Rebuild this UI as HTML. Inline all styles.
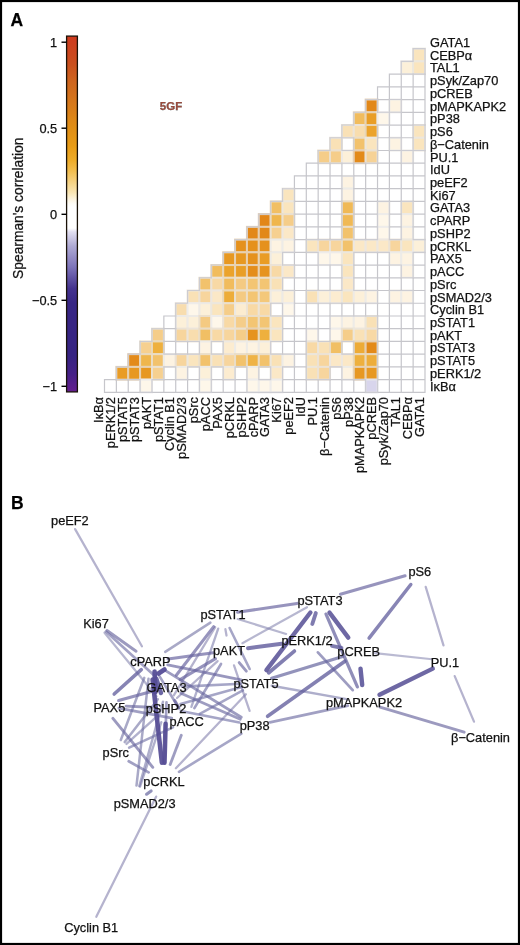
<!DOCTYPE html>
<html><head><meta charset="utf-8"><style>
html,body{margin:0;padding:0;background:#fff;}
body{width:520px;height:945px;overflow:hidden;position:relative;}
svg{position:absolute;left:0;top:0;filter:blur(0.3px);}
text{font-family:"Liberation Sans",sans-serif;stroke:#111;stroke-width:0.25px;paint-order:stroke;}
</style></head><body>
<svg width="520" height="945" viewBox="0 0 520 945">
<rect x="0" y="0" width="520" height="945" fill="#fff"/>

<g stroke-width="2.00"><rect x="413.13" y="48.65" width="11.87" height="12.73" fill="#fae5be" stroke="#ece7dd"/><rect x="401.26" y="61.38" width="11.87" height="12.73" fill="#fcf0d9" stroke="#edeae5"/><rect x="413.13" y="61.38" width="11.87" height="12.73" fill="#fae5be" stroke="#ece7dd"/><rect x="365.65" y="99.57" width="11.87" height="12.73" fill="#e28819" stroke="#e6cdaf"/><rect x="389.39" y="99.57" width="11.87" height="12.73" fill="#fdf3e2" stroke="#edebe7"/><rect x="353.78" y="112.30" width="11.87" height="12.73" fill="#f1bc5d" stroke="#eadbc2"/><rect x="365.65" y="112.30" width="11.87" height="12.73" fill="#e99e26" stroke="#e8d3b3"/><rect x="377.52" y="112.30" width="11.87" height="12.73" fill="#fef7ea" stroke="#eeecea"/><rect x="341.91" y="125.03" width="11.87" height="12.73" fill="#f9e1b6" stroke="#ece6db"/><rect x="353.78" y="125.03" width="11.87" height="12.73" fill="#f8ddae" stroke="#ece4d9"/><rect x="365.65" y="125.03" width="11.87" height="12.73" fill="#eba32c" stroke="#e8d4b4"/><rect x="413.13" y="125.03" width="11.87" height="12.73" fill="#fae5be" stroke="#ece7dd"/><rect x="330.04" y="137.76" width="11.87" height="12.73" fill="#f9e1b6" stroke="#ece6db"/><rect x="353.78" y="137.76" width="11.87" height="12.73" fill="#f2c26c" stroke="#eaddc6"/><rect x="365.65" y="137.76" width="11.87" height="12.73" fill="#fae5be" stroke="#ece7dd"/><rect x="389.39" y="137.76" width="11.87" height="12.73" fill="#fdf3e2" stroke="#edebe7"/><rect x="413.13" y="137.76" width="11.87" height="12.73" fill="#fae5be" stroke="#ece7dd"/><rect x="318.17" y="150.49" width="11.87" height="12.73" fill="#f5cd89" stroke="#ebe0ce"/><rect x="330.04" y="150.49" width="11.87" height="12.73" fill="#f5cd89" stroke="#ebe0ce"/><rect x="341.91" y="150.49" width="11.87" height="12.73" fill="#fcf0d9" stroke="#edeae5"/><rect x="353.78" y="150.49" width="11.87" height="12.73" fill="#e38a19" stroke="#e6cdaf"/><rect x="365.65" y="150.49" width="11.87" height="12.73" fill="#f6d296" stroke="#ebe1d2"/><rect x="401.26" y="150.49" width="11.87" height="12.73" fill="#fdf3e2" stroke="#edebe7"/><rect x="341.91" y="175.95" width="11.87" height="12.73" fill="#fdf3e2" stroke="#edebe7"/><rect x="282.56" y="188.68" width="11.87" height="12.73" fill="#fae5be" stroke="#ece7dd"/><rect x="341.91" y="188.68" width="11.87" height="12.73" fill="#fdf3e2" stroke="#edebe7"/><rect x="270.69" y="201.41" width="11.87" height="12.73" fill="#f1bf64" stroke="#eadcc4"/><rect x="282.56" y="201.41" width="11.87" height="12.73" fill="#fae5be" stroke="#ece7dd"/><rect x="341.91" y="201.41" width="11.87" height="12.73" fill="#f0b955" stroke="#eadac0"/><rect x="377.52" y="201.41" width="11.87" height="12.73" fill="#fdf3e2" stroke="#edebe7"/><rect x="401.26" y="201.41" width="11.87" height="12.73" fill="#fae5be" stroke="#ece7dd"/><rect x="258.81" y="214.14" width="11.87" height="12.73" fill="#e28618" stroke="#e6ccaf"/><rect x="270.69" y="214.14" width="11.87" height="12.73" fill="#efb64d" stroke="#e9d9be"/><rect x="282.56" y="214.14" width="11.87" height="12.73" fill="#f5cd89" stroke="#ebe0ce"/><rect x="341.91" y="214.14" width="11.87" height="12.73" fill="#f0b955" stroke="#eadac0"/><rect x="377.52" y="214.14" width="11.87" height="12.73" fill="#fef7ea" stroke="#eeecea"/><rect x="401.26" y="214.14" width="11.87" height="12.73" fill="#fdf3e2" stroke="#edebe7"/><rect x="246.94" y="226.87" width="11.87" height="12.73" fill="#e28819" stroke="#e6cdaf"/><rect x="258.81" y="226.87" width="11.87" height="12.73" fill="#e28819" stroke="#e6cdaf"/><rect x="270.69" y="226.87" width="11.87" height="12.73" fill="#f6d090" stroke="#ebe1d0"/><rect x="282.56" y="226.87" width="11.87" height="12.73" fill="#fbe8c7" stroke="#ede7e0"/><rect x="341.91" y="226.87" width="11.87" height="12.73" fill="#f2c26c" stroke="#eaddc6"/><rect x="377.52" y="226.87" width="11.87" height="12.73" fill="#fef7ea" stroke="#eeecea"/><rect x="401.26" y="226.87" width="11.87" height="12.73" fill="#fdf3e2" stroke="#edebe7"/><rect x="235.07" y="239.60" width="11.87" height="12.73" fill="#e5911d" stroke="#e7cfb0"/><rect x="246.94" y="239.60" width="11.87" height="12.73" fill="#e5911d" stroke="#e7cfb0"/><rect x="258.81" y="239.60" width="11.87" height="12.73" fill="#e5911d" stroke="#e7cfb0"/><rect x="270.69" y="239.60" width="11.87" height="12.73" fill="#fdf3e2" stroke="#edebe7"/><rect x="282.56" y="239.60" width="11.87" height="12.73" fill="#fdf3e2" stroke="#edebe7"/><rect x="306.30" y="239.60" width="11.87" height="12.73" fill="#fae5be" stroke="#ece7dd"/><rect x="318.17" y="239.60" width="11.87" height="12.73" fill="#f7d59d" stroke="#ece2d4"/><rect x="330.04" y="239.60" width="11.87" height="12.73" fill="#f7d59d" stroke="#ece2d4"/><rect x="341.91" y="239.60" width="11.87" height="12.73" fill="#f2c26c" stroke="#eaddc6"/><rect x="353.78" y="239.60" width="11.87" height="12.73" fill="#fbe8c7" stroke="#ede7e0"/><rect x="365.65" y="239.60" width="11.87" height="12.73" fill="#fbe8c7" stroke="#ede7e0"/><rect x="377.52" y="239.60" width="11.87" height="12.73" fill="#fbe8c7" stroke="#ede7e0"/><rect x="389.39" y="239.60" width="11.87" height="12.73" fill="#f7d59d" stroke="#ece2d4"/><rect x="401.26" y="239.60" width="11.87" height="12.73" fill="#fae5be" stroke="#ece7dd"/><rect x="413.13" y="239.60" width="11.87" height="12.73" fill="#fcf0d9" stroke="#edeae5"/><rect x="223.20" y="252.33" width="11.87" height="12.73" fill="#e79822" stroke="#e7d1b2"/><rect x="235.07" y="252.33" width="11.87" height="12.73" fill="#e79822" stroke="#e7d1b2"/><rect x="246.94" y="252.33" width="11.87" height="12.73" fill="#e5911d" stroke="#e7cfb0"/><rect x="258.81" y="252.33" width="11.87" height="12.73" fill="#e99c25" stroke="#e8d2b2"/><rect x="270.69" y="252.33" width="11.87" height="12.73" fill="#fcf0d9" stroke="#edeae5"/><rect x="318.17" y="252.33" width="11.87" height="12.73" fill="#fef7ea" stroke="#eeecea"/><rect x="330.04" y="252.33" width="11.87" height="12.73" fill="#fef7ea" stroke="#eeecea"/><rect x="341.91" y="252.33" width="11.87" height="12.73" fill="#fae5be" stroke="#ece7dd"/><rect x="389.39" y="252.33" width="11.87" height="12.73" fill="#fdf3e2" stroke="#edebe7"/><rect x="401.26" y="252.33" width="11.87" height="12.73" fill="#fdf3e2" stroke="#edebe7"/><rect x="211.33" y="265.06" width="11.87" height="12.73" fill="#f1bc5d" stroke="#eadbc2"/><rect x="223.20" y="265.06" width="11.87" height="12.73" fill="#eba32c" stroke="#e8d4b4"/><rect x="235.07" y="265.06" width="11.87" height="12.73" fill="#e99e26" stroke="#e8d3b3"/><rect x="246.94" y="265.06" width="11.87" height="12.73" fill="#e48d1a" stroke="#e6ceaf"/><rect x="258.81" y="265.06" width="11.87" height="12.73" fill="#e6931f" stroke="#e7d0b1"/><rect x="270.69" y="265.06" width="11.87" height="12.73" fill="#f8d9a5" stroke="#ece3d6"/><rect x="282.56" y="265.06" width="11.87" height="12.73" fill="#fbe8c7" stroke="#ede7e0"/><rect x="341.91" y="265.06" width="11.87" height="12.73" fill="#fae5be" stroke="#ece7dd"/><rect x="401.26" y="265.06" width="11.87" height="12.73" fill="#fdf3e2" stroke="#edebe7"/><rect x="199.46" y="277.79" width="11.87" height="12.73" fill="#f2c26c" stroke="#eaddc6"/><rect x="211.33" y="277.79" width="11.87" height="12.73" fill="#f8d9a5" stroke="#ece3d6"/><rect x="223.20" y="277.79" width="11.87" height="12.73" fill="#f1bc5d" stroke="#eadbc2"/><rect x="235.07" y="277.79" width="11.87" height="12.73" fill="#f4ca82" stroke="#ebdfcc"/><rect x="246.94" y="277.79" width="11.87" height="12.73" fill="#f3c573" stroke="#ebdec8"/><rect x="258.81" y="277.79" width="11.87" height="12.73" fill="#f3c573" stroke="#ebdec8"/><rect x="270.69" y="277.79" width="11.87" height="12.73" fill="#f9e1b6" stroke="#ece6db"/><rect x="341.91" y="277.79" width="11.87" height="12.73" fill="#fbe8c7" stroke="#ede7e0"/><rect x="187.59" y="290.52" width="11.87" height="12.73" fill="#f9e1b6" stroke="#ece6db"/><rect x="199.46" y="290.52" width="11.87" height="12.73" fill="#f7d59d" stroke="#ece2d4"/><rect x="211.33" y="290.52" width="11.87" height="12.73" fill="#fbe8c7" stroke="#ede7e0"/><rect x="223.20" y="290.52" width="11.87" height="12.73" fill="#edad3a" stroke="#e9d7b8"/><rect x="235.07" y="290.52" width="11.87" height="12.73" fill="#f4ca82" stroke="#ebdfcc"/><rect x="246.94" y="290.52" width="11.87" height="12.73" fill="#f3c573" stroke="#ebdec8"/><rect x="258.81" y="290.52" width="11.87" height="12.73" fill="#f4c87a" stroke="#ebdeca"/><rect x="270.69" y="290.52" width="11.87" height="12.73" fill="#fcf0d9" stroke="#edeae5"/><rect x="282.56" y="290.52" width="11.87" height="12.73" fill="#fcf0d9" stroke="#edeae5"/><rect x="306.30" y="290.52" width="11.87" height="12.73" fill="#f9e1b6" stroke="#ece6db"/><rect x="318.17" y="290.52" width="11.87" height="12.73" fill="#fcf0d9" stroke="#edeae5"/><rect x="330.04" y="290.52" width="11.87" height="12.73" fill="#fcecd0" stroke="#ede9e2"/><rect x="341.91" y="290.52" width="11.87" height="12.73" fill="#fae5be" stroke="#ece7dd"/><rect x="353.78" y="290.52" width="11.87" height="12.73" fill="#fcf0d9" stroke="#edeae5"/><rect x="365.65" y="290.52" width="11.87" height="12.73" fill="#fdf3e2" stroke="#edebe7"/><rect x="389.39" y="290.52" width="11.87" height="12.73" fill="#fdf3e2" stroke="#edebe7"/><rect x="401.26" y="290.52" width="11.87" height="12.73" fill="#fdf3e2" stroke="#edebe7"/><rect x="175.72" y="303.25" width="11.87" height="12.73" fill="#f8ddae" stroke="#ece4d9"/><rect x="187.59" y="303.25" width="11.87" height="12.73" fill="#fef7ea" stroke="#eeecea"/><rect x="199.46" y="303.25" width="11.87" height="12.73" fill="#fcf0d9" stroke="#edeae5"/><rect x="211.33" y="303.25" width="11.87" height="12.73" fill="#fae5be" stroke="#ece7dd"/><rect x="223.20" y="303.25" width="11.87" height="12.73" fill="#f5cd89" stroke="#ebe0ce"/><rect x="235.07" y="303.25" width="11.87" height="12.73" fill="#fcecd0" stroke="#ede9e2"/><rect x="246.94" y="303.25" width="11.87" height="12.73" fill="#f8d9a5" stroke="#ece3d6"/><rect x="258.81" y="303.25" width="11.87" height="12.73" fill="#f8d9a5" stroke="#ece3d6"/><rect x="282.56" y="303.25" width="11.87" height="12.73" fill="#fef7ea" stroke="#eeecea"/><rect x="175.72" y="315.98" width="11.87" height="12.73" fill="#fcf0d9" stroke="#edeae5"/><rect x="187.59" y="315.98" width="11.87" height="12.73" fill="#fcf0d9" stroke="#edeae5"/><rect x="199.46" y="315.98" width="11.87" height="12.73" fill="#f4ca82" stroke="#ebdfcc"/><rect x="211.33" y="315.98" width="11.87" height="12.73" fill="#fef7ea" stroke="#eeecea"/><rect x="223.20" y="315.98" width="11.87" height="12.73" fill="#f8d9a5" stroke="#ece3d6"/><rect x="235.07" y="315.98" width="11.87" height="12.73" fill="#f5cd89" stroke="#ebe0ce"/><rect x="246.94" y="315.98" width="11.87" height="12.73" fill="#f3c573" stroke="#ebdec8"/><rect x="258.81" y="315.98" width="11.87" height="12.73" fill="#f3c573" stroke="#ebdec8"/><rect x="270.69" y="315.98" width="11.87" height="12.73" fill="#fae5be" stroke="#ece7dd"/><rect x="330.04" y="315.98" width="11.87" height="12.73" fill="#fef7ea" stroke="#eeecea"/><rect x="341.91" y="315.98" width="11.87" height="12.73" fill="#fdf3e2" stroke="#edebe7"/><rect x="353.78" y="315.98" width="11.87" height="12.73" fill="#fdf3e2" stroke="#edebe7"/><rect x="365.65" y="315.98" width="11.87" height="12.73" fill="#f9e1b6" stroke="#ece6db"/><rect x="151.98" y="328.71" width="11.87" height="12.73" fill="#f5cd89" stroke="#ebe0ce"/><rect x="175.72" y="328.71" width="11.87" height="12.73" fill="#f7d59d" stroke="#ece2d4"/><rect x="187.59" y="328.71" width="11.87" height="12.73" fill="#f8ddae" stroke="#ece4d9"/><rect x="199.46" y="328.71" width="11.87" height="12.73" fill="#f1bf64" stroke="#eadcc4"/><rect x="211.33" y="328.71" width="11.87" height="12.73" fill="#f8d9a5" stroke="#ece3d6"/><rect x="223.20" y="328.71" width="11.87" height="12.73" fill="#f7d59d" stroke="#ece2d4"/><rect x="235.07" y="328.71" width="11.87" height="12.73" fill="#f5cd89" stroke="#ebe0ce"/><rect x="246.94" y="328.71" width="11.87" height="12.73" fill="#e6931f" stroke="#e7d0b1"/><rect x="258.81" y="328.71" width="11.87" height="12.73" fill="#eeb03e" stroke="#e9d8b9"/><rect x="270.69" y="328.71" width="11.87" height="12.73" fill="#fae5be" stroke="#ece7dd"/><rect x="306.30" y="328.71" width="11.87" height="12.73" fill="#fef7ea" stroke="#eeecea"/><rect x="330.04" y="328.71" width="11.87" height="12.73" fill="#fef7ea" stroke="#eeecea"/><rect x="341.91" y="328.71" width="11.87" height="12.73" fill="#f5cd89" stroke="#ebe0ce"/><rect x="353.78" y="328.71" width="11.87" height="12.73" fill="#f9e1b6" stroke="#ece6db"/><rect x="365.65" y="328.71" width="11.87" height="12.73" fill="#f8d9a5" stroke="#ece3d6"/><rect x="140.11" y="341.44" width="11.87" height="12.73" fill="#f6d090" stroke="#ebe1d0"/><rect x="151.98" y="341.44" width="11.87" height="12.73" fill="#eeb03e" stroke="#e9d8b9"/><rect x="199.46" y="341.44" width="11.87" height="12.73" fill="#fdf3e2" stroke="#edebe7"/><rect x="223.20" y="341.44" width="11.87" height="12.73" fill="#fcecd0" stroke="#ede9e2"/><rect x="235.07" y="341.44" width="11.87" height="12.73" fill="#fdf3e2" stroke="#edebe7"/><rect x="246.94" y="341.44" width="11.87" height="12.73" fill="#fdf3e2" stroke="#edebe7"/><rect x="258.81" y="341.44" width="11.87" height="12.73" fill="#fcf0d9" stroke="#edeae5"/><rect x="306.30" y="341.44" width="11.87" height="12.73" fill="#f8d9a5" stroke="#ece3d6"/><rect x="318.17" y="341.44" width="11.87" height="12.73" fill="#f9e1b6" stroke="#ece6db"/><rect x="330.04" y="341.44" width="11.87" height="12.73" fill="#f1bf64" stroke="#eadcc4"/><rect x="353.78" y="341.44" width="11.87" height="12.73" fill="#edab37" stroke="#e9d6b7"/><rect x="365.65" y="341.44" width="11.87" height="12.73" fill="#e38a19" stroke="#e6cdaf"/><rect x="128.24" y="354.17" width="11.87" height="12.73" fill="#e38a19" stroke="#e6cdaf"/><rect x="140.11" y="354.17" width="11.87" height="12.73" fill="#efb64d" stroke="#e9d9be"/><rect x="151.98" y="354.17" width="11.87" height="12.73" fill="#f2c26c" stroke="#eaddc6"/><rect x="163.85" y="354.17" width="11.87" height="12.73" fill="#fdf3e2" stroke="#edebe7"/><rect x="175.72" y="354.17" width="11.87" height="12.73" fill="#f7d59d" stroke="#ece2d4"/><rect x="187.59" y="354.17" width="11.87" height="12.73" fill="#fae5be" stroke="#ece7dd"/><rect x="199.46" y="354.17" width="11.87" height="12.73" fill="#f2c26c" stroke="#eaddc6"/><rect x="211.33" y="354.17" width="11.87" height="12.73" fill="#f9e1b6" stroke="#ece6db"/><rect x="223.20" y="354.17" width="11.87" height="12.73" fill="#f7d59d" stroke="#ece2d4"/><rect x="235.07" y="354.17" width="11.87" height="12.73" fill="#f2c26c" stroke="#eaddc6"/><rect x="246.94" y="354.17" width="11.87" height="12.73" fill="#efb346" stroke="#e9d9bc"/><rect x="258.81" y="354.17" width="11.87" height="12.73" fill="#f2c26c" stroke="#eaddc6"/><rect x="270.69" y="354.17" width="11.87" height="12.73" fill="#f9e1b6" stroke="#ece6db"/><rect x="282.56" y="354.17" width="11.87" height="12.73" fill="#fdf3e2" stroke="#edebe7"/><rect x="306.30" y="354.17" width="11.87" height="12.73" fill="#f9e1b6" stroke="#ece6db"/><rect x="318.17" y="354.17" width="11.87" height="12.73" fill="#f7d59d" stroke="#ece2d4"/><rect x="330.04" y="354.17" width="11.87" height="12.73" fill="#fbe8c7" stroke="#ede7e0"/><rect x="341.91" y="354.17" width="11.87" height="12.73" fill="#fbe8c7" stroke="#ede7e0"/><rect x="353.78" y="354.17" width="11.87" height="12.73" fill="#eeb03e" stroke="#e9d8b9"/><rect x="365.65" y="354.17" width="11.87" height="12.73" fill="#edad3a" stroke="#e9d7b8"/><rect x="116.37" y="366.90" width="11.87" height="12.73" fill="#e99c25" stroke="#e8d2b2"/><rect x="128.24" y="366.90" width="11.87" height="12.73" fill="#e79822" stroke="#e7d1b2"/><rect x="140.11" y="366.90" width="11.87" height="12.73" fill="#e79822" stroke="#e7d1b2"/><rect x="151.98" y="366.90" width="11.87" height="12.73" fill="#f6d090" stroke="#ebe1d0"/><rect x="175.72" y="366.90" width="11.87" height="12.73" fill="#fdf3e2" stroke="#edebe7"/><rect x="199.46" y="366.90" width="11.87" height="12.73" fill="#fcf0d9" stroke="#edeae5"/><rect x="223.20" y="366.90" width="11.87" height="12.73" fill="#fcecd0" stroke="#ede9e2"/><rect x="246.94" y="366.90" width="11.87" height="12.73" fill="#fdf3e2" stroke="#edebe7"/><rect x="270.69" y="366.90" width="11.87" height="12.73" fill="#fbe8c7" stroke="#ede7e0"/><rect x="306.30" y="366.90" width="11.87" height="12.73" fill="#f9e1b6" stroke="#ece6db"/><rect x="318.17" y="366.90" width="11.87" height="12.73" fill="#f7d59d" stroke="#ece2d4"/><rect x="341.91" y="366.90" width="11.87" height="12.73" fill="#fdf3e2" stroke="#edebe7"/><rect x="353.78" y="366.90" width="11.87" height="12.73" fill="#e79822" stroke="#e7d1b2"/><rect x="365.65" y="366.90" width="11.87" height="12.73" fill="#e79822" stroke="#e7d1b2"/><rect x="140.11" y="379.63" width="11.87" height="12.73" fill="#fef7ea" stroke="#eeecea"/><rect x="199.46" y="379.63" width="11.87" height="12.73" fill="#fef7ea" stroke="#eeecea"/><rect x="246.94" y="379.63" width="11.87" height="12.73" fill="#fef7ea" stroke="#eeecea"/><rect x="258.81" y="379.63" width="11.87" height="12.73" fill="#fef7ea" stroke="#eeecea"/><rect x="270.69" y="379.63" width="11.87" height="12.73" fill="#fef7ea" stroke="#eeecea"/><rect x="365.65" y="379.63" width="11.87" height="12.73" fill="#d8d5ec" stroke="#e3e2ea"/></g>
<path d="M388.79 74.11H401.86M376.92 86.84H389.99M388.79 86.84H401.86M400.66 86.84H413.73M412.53 86.84H425.60M376.92 99.57H389.99M400.66 99.57H413.73M412.53 99.57H425.60M400.66 112.30H413.73M412.53 112.30H425.60M388.79 125.03H401.86M400.66 125.03H413.73M376.92 137.76H389.99M400.66 137.76H413.73M376.92 150.49H389.99M305.70 163.22H318.77M376.92 163.22H389.99M388.79 163.22H401.86M412.53 163.22H425.60M293.83 175.95H306.90M305.70 175.95H318.77M317.57 175.95H330.64M329.44 175.95H342.51M353.18 175.95H366.25M365.05 175.95H378.12M376.92 175.95H389.99M388.79 175.95H401.86M400.66 175.95H413.73M412.53 175.95H425.60M293.83 188.68H306.90M305.70 188.68H318.77M317.57 188.68H330.64M329.44 188.68H342.51M353.18 188.68H366.25M365.05 188.68H378.12M376.92 188.68H389.99M388.79 188.68H401.86M400.66 188.68H413.73M412.53 188.68H425.60M293.83 201.41H306.90M305.70 201.41H318.77M317.57 201.41H330.64M329.44 201.41H342.51M353.18 201.41H366.25M365.05 201.41H378.12M388.79 201.41H401.86M412.53 201.41H425.60M293.83 214.14H306.90M305.70 214.14H318.77M317.57 214.14H330.64M329.44 214.14H342.51M353.18 214.14H366.25M365.05 214.14H378.12M388.79 214.14H401.86M412.53 214.14H425.60M293.83 226.87H306.90M305.70 226.87H318.77M317.57 226.87H330.64M329.44 226.87H342.51M353.18 226.87H366.25M365.05 226.87H378.12M388.79 226.87H401.86M412.53 226.87H425.60M293.83 239.60H306.90M293.83 252.33H306.90M293.83 265.06H306.90M305.70 265.06H318.77M353.18 265.06H366.25M365.05 265.06H378.12M376.92 265.06H389.99M412.53 265.06H425.60M293.83 277.79H306.90M305.70 277.79H318.77M317.57 277.79H330.64M329.44 277.79H342.51M353.18 277.79H366.25M365.05 277.79H378.12M376.92 277.79H389.99M388.79 277.79H401.86M412.53 277.79H425.60M293.83 290.52H306.90M376.92 290.52H389.99M412.53 290.52H425.60M293.83 303.25H306.90M376.92 303.25H389.99M412.53 303.25H425.60M163.25 315.98H176.32M293.83 315.98H306.90M305.70 315.98H318.77M317.57 315.98H330.64M376.92 315.98H389.99M388.79 315.98H401.86M400.66 315.98H413.73M412.53 315.98H425.60M163.25 328.71H176.32M281.96 328.71H295.03M293.83 328.71H306.90M317.57 328.71H330.64M376.92 328.71H389.99M388.79 328.71H401.86M400.66 328.71H413.73M412.53 328.71H425.60M163.25 341.44H176.32M281.96 341.44H295.03M293.83 341.44H306.90M376.92 341.44H389.99M388.79 341.44H401.86M400.66 341.44H413.73M412.53 341.44H425.60M293.83 354.17H306.90M376.92 354.17H389.99M388.79 354.17H401.86M400.66 354.17H413.73M412.53 354.17H425.60M293.83 366.90H306.90M376.92 366.90H389.99M388.79 366.90H401.86M400.66 366.90H413.73M412.53 366.90H425.60M103.90 379.63H116.97M163.25 379.63H176.32M186.99 379.63H200.06M210.73 379.63H223.80M234.47 379.63H247.54M281.96 379.63H295.03M293.83 379.63H306.90M329.44 379.63H342.51M376.92 379.63H389.99M388.79 379.63H401.86M400.66 379.63H413.73M412.53 379.63H425.60M103.90 392.36H116.97M115.77 392.36H128.84M127.64 392.36H140.71M151.38 392.36H164.45M163.25 392.36H176.32M175.12 392.36H188.19M186.99 392.36H200.06M210.73 392.36H223.80M222.60 392.36H235.67M234.47 392.36H247.54M281.96 392.36H295.03M293.83 392.36H306.90M305.70 392.36H318.77M317.57 392.36H330.64M329.44 392.36H342.51M341.31 392.36H354.38M353.18 392.36H366.25M376.92 392.36H389.99M388.79 392.36H401.86M400.66 392.36H413.73M412.53 392.36H425.60M104.50 379.03V392.96M116.37 379.03V392.96M128.24 379.03V392.96M163.85 315.38V329.31M163.85 379.03V392.96M175.72 340.84V354.77M175.72 379.03V392.96M187.59 340.84V354.77M187.59 379.03V392.96M223.20 379.03V392.96M235.07 379.03V392.96M282.56 340.84V354.77M294.43 175.35V189.28M294.43 251.73V265.66M294.43 277.19V291.12M294.43 315.38V329.31M294.43 328.11V342.04M294.43 340.84V354.77M294.43 366.30V380.23M294.43 379.03V392.96M306.30 162.62V176.55M306.30 175.35V189.28M306.30 188.08V202.01M306.30 200.81V214.74M306.30 213.54V227.47M306.30 226.27V240.20M306.30 251.73V265.66M306.30 264.46V278.39M306.30 277.19V291.12M306.30 302.65V316.58M306.30 315.38V329.31M306.30 379.03V392.96M318.17 162.62V176.55M318.17 175.35V189.28M318.17 188.08V202.01M318.17 200.81V214.74M318.17 213.54V227.47M318.17 226.27V240.20M318.17 264.46V278.39M318.17 277.19V291.12M318.17 302.65V316.58M318.17 315.38V329.31M318.17 379.03V392.96M330.04 162.62V176.55M330.04 175.35V189.28M330.04 188.08V202.01M330.04 200.81V214.74M330.04 213.54V227.47M330.04 226.27V240.20M330.04 264.46V278.39M330.04 277.19V291.12M330.04 302.65V316.58M330.04 379.03V392.96M341.91 162.62V176.55M341.91 302.65V316.58M341.91 379.03V392.96M353.78 162.62V176.55M353.78 302.65V316.58M353.78 379.03V392.96M365.65 162.62V176.55M365.65 175.35V189.28M365.65 188.08V202.01M365.65 200.81V214.74M365.65 213.54V227.47M365.65 226.27V240.20M365.65 251.73V265.66M365.65 264.46V278.39M365.65 277.19V291.12M365.65 302.65V316.58M377.52 86.24V100.17M377.52 162.62V176.55M377.52 175.35V189.28M377.52 188.08V202.01M377.52 251.73V265.66M377.52 264.46V278.39M377.52 277.19V291.12M377.52 302.65V316.58M389.39 73.51V87.44M389.39 86.24V100.17M389.39 124.43V138.36M389.39 149.89V163.82M389.39 162.62V176.55M389.39 175.35V189.28M389.39 188.08V202.01M389.39 264.46V278.39M389.39 277.19V291.12M389.39 302.65V316.58M389.39 315.38V329.31M389.39 328.11V342.04M389.39 340.84V354.77M389.39 353.57V367.50M389.39 366.30V380.23M389.39 379.03V392.96M401.26 73.51V87.44M401.26 86.24V100.17M401.26 111.70V125.63M401.26 124.43V138.36M401.26 162.62V176.55M401.26 175.35V189.28M401.26 188.08V202.01M401.26 277.19V291.12M401.26 302.65V316.58M401.26 315.38V329.31M401.26 328.11V342.04M401.26 340.84V354.77M401.26 353.57V367.50M401.26 366.30V380.23M401.26 379.03V392.96M413.13 73.51V87.44M413.13 86.24V100.17M413.13 98.97V112.90M413.13 111.70V125.63M413.13 162.62V176.55M413.13 175.35V189.28M413.13 188.08V202.01M413.13 277.19V291.12M413.13 302.65V316.58M413.13 315.38V329.31M413.13 328.11V342.04M413.13 340.84V354.77M413.13 353.57V367.50M413.13 366.30V380.23M413.13 379.03V392.96M425.00 73.51V87.44M425.00 86.24V100.17M425.00 98.97V112.90M425.00 111.70V125.63M425.00 149.89V163.82M425.00 162.62V176.55M425.00 175.35V189.28M425.00 188.08V202.01M425.00 200.81V214.74M425.00 213.54V227.47M425.00 226.27V240.20M425.00 251.73V265.66M425.00 264.46V278.39M425.00 277.19V291.12M425.00 289.92V303.85M425.00 302.65V316.58M425.00 315.38V329.31M425.00 328.11V342.04M425.00 340.84V354.77M425.00 353.57V367.50M425.00 366.30V380.23M425.00 379.03V392.96" stroke="#c6c6cb" stroke-width="1.2" fill="none"/>
<path d="M412.53 48.65H425.60M400.66 61.38H413.73M400.66 74.11H413.73M412.53 74.11H425.60M365.05 99.57H378.12M388.79 99.57H401.86M353.18 112.30H366.25M376.92 112.30H389.99M388.79 112.30H401.86M341.31 125.03H354.38M376.92 125.03H389.99M412.53 125.03H425.60M329.44 137.76H342.51M341.31 137.76H354.38M388.79 137.76H401.86M317.57 150.49H330.64M341.31 150.49H354.38M388.79 150.49H401.86M400.66 150.49H413.73M412.53 150.49H425.60M317.57 163.22H330.64M329.44 163.22H342.51M341.31 163.22H354.38M353.18 163.22H366.25M365.05 163.22H378.12M400.66 163.22H413.73M341.31 175.95H354.38M281.96 188.68H295.03M270.09 201.41H283.16M376.92 201.41H389.99M400.66 201.41H413.73M258.21 214.14H271.29M246.34 226.87H259.41M234.47 239.60H247.54M305.70 239.60H318.77M317.57 239.60H330.64M329.44 239.60H342.51M353.18 239.60H366.25M365.05 239.60H378.12M388.79 239.60H401.86M412.53 239.60H425.60M222.60 252.33H235.67M281.96 252.33H295.03M305.70 252.33H318.77M353.18 252.33H366.25M365.05 252.33H378.12M376.92 252.33H389.99M412.53 252.33H425.60M210.73 265.06H223.80M281.96 265.06H295.03M317.57 265.06H330.64M329.44 265.06H342.51M388.79 265.06H401.86M198.86 277.79H211.93M281.96 277.79H295.03M400.66 277.79H413.73M186.99 290.52H200.06M281.96 290.52H295.03M305.70 290.52H318.77M317.57 290.52H330.64M329.44 290.52H342.51M353.18 290.52H366.25M365.05 290.52H378.12M388.79 290.52H401.86M400.66 290.52H413.73M175.12 303.25H188.19M270.09 303.25H283.16M305.70 303.25H318.77M317.57 303.25H330.64M329.44 303.25H342.51M341.31 303.25H354.38M353.18 303.25H366.25M365.05 303.25H378.12M388.79 303.25H401.86M400.66 303.25H413.73M270.09 315.98H283.16M281.96 315.98H295.03M329.44 315.98H342.51M341.31 315.98H354.38M353.18 315.98H366.25M365.05 315.98H378.12M151.38 328.71H164.45M305.70 328.71H318.77M139.51 341.44H152.58M175.12 341.44H188.19M186.99 341.44H200.06M210.73 341.44H223.80M270.09 341.44H283.16M317.57 341.44H330.64M341.31 341.44H354.38M127.64 354.17H140.71M163.25 354.17H176.32M175.12 354.17H188.19M186.99 354.17H200.06M210.73 354.17H223.80M270.09 354.17H283.16M281.96 354.17H295.03M341.31 354.17H354.38M115.77 366.90H128.84M163.25 366.90H176.32M186.99 366.90H200.06M210.73 366.90H223.80M234.47 366.90H247.54M258.21 366.90H271.29M281.96 366.90H295.03M329.44 366.90H342.51M115.77 379.63H128.84M127.64 379.63H140.71M151.38 379.63H164.45M175.12 379.63H188.19M222.60 379.63H235.67M258.21 379.63H271.29M305.70 379.63H318.77M317.57 379.63H330.64M341.31 379.63H354.38M353.18 379.63H366.25M139.51 392.36H152.58M198.86 392.36H211.93M246.34 392.36H259.41M258.21 392.36H271.29M270.09 392.36H283.16M365.05 392.36H378.12M116.37 366.30V380.23M128.24 353.57V367.50M140.11 340.84V354.77M140.11 379.03V392.96M151.98 328.11V342.04M151.98 379.03V392.96M163.85 328.11V342.04M163.85 340.84V354.77M163.85 366.30V380.23M175.72 302.65V316.58M175.72 315.38V329.31M175.72 328.11V342.04M175.72 366.30V380.23M187.59 289.92V303.85M187.59 366.30V380.23M199.46 277.19V291.12M199.46 340.84V354.77M199.46 366.30V380.23M199.46 379.03V392.96M211.33 264.46V278.39M211.33 340.84V354.77M211.33 366.30V380.23M211.33 379.03V392.96M223.20 251.73V265.66M223.20 340.84V354.77M223.20 366.30V380.23M235.07 239.00V252.93M235.07 366.30V380.23M246.94 226.27V240.20M246.94 366.30V380.23M246.94 379.03V392.96M258.81 213.54V227.47M258.81 366.30V380.23M270.69 200.81V214.74M270.69 302.65V316.58M270.69 340.84V354.77M270.69 366.30V380.23M282.56 188.08V202.01M282.56 251.73V265.66M282.56 277.19V291.12M282.56 302.65V316.58M282.56 315.38V329.31M282.56 328.11V342.04M282.56 366.30V380.23M282.56 379.03V392.96M294.43 188.08V202.01M294.43 200.81V214.74M294.43 213.54V227.47M294.43 226.27V240.20M294.43 239.00V252.93M294.43 264.46V278.39M294.43 289.92V303.85M294.43 302.65V316.58M294.43 353.57V367.50M306.30 239.00V252.93M306.30 289.92V303.85M306.30 328.11V342.04M306.30 340.84V354.77M306.30 353.57V367.50M306.30 366.30V380.23M318.17 149.89V163.82M318.17 251.73V265.66M318.17 328.11V342.04M330.04 137.16V151.09M330.04 315.38V329.31M330.04 328.11V342.04M330.04 366.30V380.23M341.91 124.43V138.36M341.91 137.16V151.09M341.91 175.35V189.28M341.91 188.08V202.01M341.91 200.81V214.74M341.91 213.54V227.47M341.91 226.27V240.20M341.91 264.46V278.39M341.91 277.19V291.12M341.91 340.84V354.77M341.91 366.30V380.23M353.78 111.70V125.63M353.78 137.16V151.09M353.78 175.35V189.28M353.78 188.08V202.01M353.78 200.81V214.74M353.78 213.54V227.47M353.78 226.27V240.20M353.78 251.73V265.66M353.78 264.46V278.39M353.78 277.19V291.12M353.78 340.84V354.77M365.65 98.97V112.90M365.65 379.03V392.96M377.52 98.97V112.90M377.52 124.43V138.36M377.52 137.16V151.09M377.52 149.89V163.82M377.52 200.81V214.74M377.52 213.54V227.47M377.52 226.27V240.20M377.52 289.92V303.85M377.52 315.38V329.31M377.52 328.11V342.04M377.52 340.84V354.77M377.52 353.57V367.50M377.52 366.30V380.23M377.52 379.03V392.96M389.39 98.97V112.90M389.39 111.70V125.63M389.39 137.16V151.09M389.39 200.81V214.74M389.39 213.54V227.47M389.39 226.27V240.20M389.39 251.73V265.66M389.39 289.92V303.85M401.26 60.78V74.71M401.26 98.97V112.90M401.26 137.16V151.09M401.26 149.89V163.82M401.26 200.81V214.74M401.26 213.54V227.47M401.26 226.27V240.20M401.26 264.46V278.39M413.13 48.05V61.98M413.13 124.43V138.36M413.13 137.16V151.09M413.13 149.89V163.82M413.13 200.81V214.74M413.13 213.54V227.47M413.13 226.27V240.20M413.13 251.73V265.66M413.13 264.46V278.39M413.13 289.92V303.85M425.00 48.05V61.98M425.00 60.78V74.71M425.00 124.43V138.36M425.00 137.16V151.09M425.00 239.00V252.93" stroke="#ccccd2" stroke-width="1.1" fill="none"/>
<g font-size="12.8" fill="#111"><text x="430" y="46.95">GATA1</text><text x="430" y="59.68">CEBPα</text><text x="430" y="72.41">TAL1</text><text x="430" y="85.14">pSyk/Zap70</text><text x="430" y="97.87">pCREB</text><text x="430" y="110.60">pMAPKAPK2</text><text x="430" y="123.33">pP38</text><text x="430" y="136.06">pS6</text><text x="430" y="148.79">β−Catenin</text><text x="430" y="161.52">PU.1</text><text x="430" y="174.25">IdU</text><text x="430" y="186.98">peEF2</text><text x="430" y="199.71">Ki67</text><text x="430" y="212.44">GATA3</text><text x="430" y="225.17">cPARP</text><text x="430" y="237.90">pSHP2</text><text x="430" y="250.63">pCRKL</text><text x="430" y="263.36">PAX5</text><text x="430" y="276.09">pACC</text><text x="430" y="288.82">pSrc</text><text x="430" y="301.55">pSMAD2/3</text><text x="430" y="314.28">Cyclin B1</text><text x="430" y="327.01">pSTAT1</text><text x="430" y="339.74">pAKT</text><text x="430" y="352.47">pSTAT3</text><text x="430" y="365.20">pSTAT5</text><text x="430" y="377.93">pERK1/2</text><text x="430" y="390.66">IκBα</text></g>
<g font-size="12.8" fill="#111"><text x="103.23" y="397" text-anchor="end" transform="rotate(-90 103.23 397)">IκBα</text><text x="115.10" y="397" text-anchor="end" transform="rotate(-90 115.10 397)">pERK1/2</text><text x="126.97" y="397" text-anchor="end" transform="rotate(-90 126.97 397)">pSTAT5</text><text x="138.84" y="397" text-anchor="end" transform="rotate(-90 138.84 397)">pSTAT3</text><text x="150.71" y="397" text-anchor="end" transform="rotate(-90 150.71 397)">pAKT</text><text x="162.58" y="397" text-anchor="end" transform="rotate(-90 162.58 397)">pSTAT1</text><text x="174.45" y="397" text-anchor="end" transform="rotate(-90 174.45 397)">Cyclin B1</text><text x="186.32" y="397" text-anchor="end" transform="rotate(-90 186.32 397)">pSMAD2/3</text><text x="198.19" y="397" text-anchor="end" transform="rotate(-90 198.19 397)">pSrc</text><text x="210.06" y="397" text-anchor="end" transform="rotate(-90 210.06 397)">pACC</text><text x="221.93" y="397" text-anchor="end" transform="rotate(-90 221.93 397)">PAX5</text><text x="233.80" y="397" text-anchor="end" transform="rotate(-90 233.80 397)">pCRKL</text><text x="245.67" y="397" text-anchor="end" transform="rotate(-90 245.67 397)">pSHP2</text><text x="257.55" y="397" text-anchor="end" transform="rotate(-90 257.55 397)">cPARP</text><text x="269.42" y="397" text-anchor="end" transform="rotate(-90 269.42 397)">GATA3</text><text x="281.29" y="397" text-anchor="end" transform="rotate(-90 281.29 397)">Ki67</text><text x="293.16" y="397" text-anchor="end" transform="rotate(-90 293.16 397)">peEF2</text><text x="305.03" y="397" text-anchor="end" transform="rotate(-90 305.03 397)">IdU</text><text x="316.90" y="397" text-anchor="end" transform="rotate(-90 316.90 397)">PU.1</text><text x="328.77" y="397" text-anchor="end" transform="rotate(-90 328.77 397)">β−Catenin</text><text x="340.64" y="397" text-anchor="end" transform="rotate(-90 340.64 397)">pS6</text><text x="352.51" y="397" text-anchor="end" transform="rotate(-90 352.51 397)">pP38</text><text x="364.38" y="397" text-anchor="end" transform="rotate(-90 364.38 397)">pMAPKAPK2</text><text x="376.25" y="397" text-anchor="end" transform="rotate(-90 376.25 397)">pCREB</text><text x="388.12" y="397" text-anchor="end" transform="rotate(-90 388.12 397)">pSyk/Zap70</text><text x="399.99" y="397" text-anchor="end" transform="rotate(-90 399.99 397)">TAL1</text><text x="411.86" y="397" text-anchor="end" transform="rotate(-90 411.86 397)">CEBPα</text><text x="423.73" y="397" text-anchor="end" transform="rotate(-90 423.73 397)">GATA1</text></g>
<defs><linearGradient id="cb" x1="0" y1="0" x2="0" y2="1"><stop offset="0.0000" stop-color="#ce3a1e"/><stop offset="0.0100" stop-color="#cd3d1e"/><stop offset="0.0200" stop-color="#cd3f1e"/><stop offset="0.0300" stop-color="#cc421e"/><stop offset="0.0400" stop-color="#cc451e"/><stop offset="0.0500" stop-color="#cb471e"/><stop offset="0.0600" stop-color="#cb4a1e"/><stop offset="0.0700" stop-color="#ca4d1e"/><stop offset="0.0800" stop-color="#ca501e"/><stop offset="0.0900" stop-color="#cb551e"/><stop offset="0.1000" stop-color="#cc591e"/><stop offset="0.1100" stop-color="#cd5d1e"/><stop offset="0.1200" stop-color="#ce621e"/><stop offset="0.1300" stop-color="#cf661e"/><stop offset="0.1400" stop-color="#d0691d"/><stop offset="0.1500" stop-color="#d16c1d"/><stop offset="0.1600" stop-color="#d36f1c"/><stop offset="0.1700" stop-color="#d4721c"/><stop offset="0.1800" stop-color="#d5761b"/><stop offset="0.1900" stop-color="#d7791b"/><stop offset="0.2000" stop-color="#d87c1a"/><stop offset="0.2100" stop-color="#d97f19"/><stop offset="0.2200" stop-color="#db8218"/><stop offset="0.2300" stop-color="#dc8618"/><stop offset="0.2400" stop-color="#de8917"/><stop offset="0.2500" stop-color="#df8c16"/><stop offset="0.2600" stop-color="#e08f16"/><stop offset="0.2700" stop-color="#e29116"/><stop offset="0.2800" stop-color="#e49416"/><stop offset="0.2900" stop-color="#e59716"/><stop offset="0.3000" stop-color="#e69916"/><stop offset="0.3100" stop-color="#e89c16"/><stop offset="0.3200" stop-color="#eaa01b"/><stop offset="0.3300" stop-color="#eba420"/><stop offset="0.3400" stop-color="#eca825"/><stop offset="0.3500" stop-color="#eeac2a"/><stop offset="0.3600" stop-color="#efb237"/><stop offset="0.3700" stop-color="#f1b843"/><stop offset="0.3800" stop-color="#f2be50"/><stop offset="0.3900" stop-color="#f3c561"/><stop offset="0.4000" stop-color="#f5cb71"/><stop offset="0.4100" stop-color="#f6d282"/><stop offset="0.4200" stop-color="#f7d993"/><stop offset="0.4300" stop-color="#f9dfa3"/><stop offset="0.4400" stop-color="#fae6b4"/><stop offset="0.4500" stop-color="#fceecb"/><stop offset="0.4600" stop-color="#fdf5e2"/><stop offset="0.4700" stop-color="#fefcf5"/><stop offset="0.4800" stop-color="#ffffff"/><stop offset="0.4900" stop-color="#ffffff"/><stop offset="0.5000" stop-color="#ffffff"/><stop offset="0.5100" stop-color="#ffffff"/><stop offset="0.5200" stop-color="#ffffff"/><stop offset="0.5300" stop-color="#ffffff"/><stop offset="0.5400" stop-color="#ffffff"/><stop offset="0.5500" stop-color="#e2dff1"/><stop offset="0.5600" stop-color="#d5d2ea"/><stop offset="0.5700" stop-color="#c9c5e3"/><stop offset="0.5800" stop-color="#bcb7db"/><stop offset="0.5900" stop-color="#afaad4"/><stop offset="0.6000" stop-color="#a7a1d0"/><stop offset="0.6100" stop-color="#9e98cb"/><stop offset="0.6200" stop-color="#968ec6"/><stop offset="0.6300" stop-color="#8e85c2"/><stop offset="0.6400" stop-color="#857cbe"/><stop offset="0.6500" stop-color="#7d73b9"/><stop offset="0.6600" stop-color="#7368b2"/><stop offset="0.6700" stop-color="#6a5dab"/><stop offset="0.6800" stop-color="#6052a3"/><stop offset="0.6900" stop-color="#57489c"/><stop offset="0.7000" stop-color="#4e3d95"/><stop offset="0.7100" stop-color="#44328e"/><stop offset="0.7200" stop-color="#412f8c"/><stop offset="0.7300" stop-color="#3e2c89"/><stop offset="0.7400" stop-color="#3b2986"/><stop offset="0.7500" stop-color="#382684"/><stop offset="0.7600" stop-color="#382684"/><stop offset="0.7700" stop-color="#382684"/><stop offset="0.7800" stop-color="#382584"/><stop offset="0.7900" stop-color="#382583"/><stop offset="0.8000" stop-color="#382583"/><stop offset="0.8100" stop-color="#382583"/><stop offset="0.8200" stop-color="#382583"/><stop offset="0.8300" stop-color="#372483"/><stop offset="0.8400" stop-color="#372483"/><stop offset="0.8500" stop-color="#372483"/><stop offset="0.8600" stop-color="#372483"/><stop offset="0.8700" stop-color="#372482"/><stop offset="0.8800" stop-color="#372382"/><stop offset="0.8900" stop-color="#372382"/><stop offset="0.9000" stop-color="#372382"/><stop offset="0.9100" stop-color="#3a2283"/><stop offset="0.9200" stop-color="#3d2284"/><stop offset="0.9300" stop-color="#402185"/><stop offset="0.9400" stop-color="#432186"/><stop offset="0.9500" stop-color="#462087"/><stop offset="0.9600" stop-color="#4c2088"/><stop offset="0.9700" stop-color="#521f8a"/><stop offset="0.9800" stop-color="#581f8b"/><stop offset="0.9900" stop-color="#5e1e8d"/><stop offset="1.0000" stop-color="#641e8e"/></linearGradient></defs>
<rect x="66.6" y="36.1" width="10.8" height="355.8" fill="url(#cb)" stroke="#1a1208" stroke-width="1.3"/>
<line x1="61.5" y1="42.2" x2="66.5" y2="42.2" stroke="#000" stroke-width="1.4"/><text x="57.2" y="46.6" text-anchor="end" font-size="12.8" fill="#111">1</text><line x1="61.5" y1="128.2" x2="66.5" y2="128.2" stroke="#000" stroke-width="1.4"/><text x="57.2" y="132.6" text-anchor="end" font-size="12.8" fill="#111">0.5</text><line x1="61.5" y1="214.3" x2="66.5" y2="214.3" stroke="#000" stroke-width="1.4"/><text x="57.2" y="218.7" text-anchor="end" font-size="12.8" fill="#111">0</text><line x1="61.5" y1="300.3" x2="66.5" y2="300.3" stroke="#000" stroke-width="1.4"/><text x="57.2" y="304.7" text-anchor="end" font-size="12.8" fill="#111">−0.5</text><line x1="61.5" y1="386.3" x2="66.5" y2="386.3" stroke="#000" stroke-width="1.4"/><text x="57.2" y="390.7" text-anchor="end" font-size="12.8" fill="#111">−1</text>
<text x="23.5" y="208.2" text-anchor="middle" font-size="13.8" fill="#111" transform="rotate(-90 23.5 208.2)">Spearman's correlation</text>
<text x="171" y="109.6" text-anchor="middle" font-size="11.5" font-weight="bold" fill="#984a3c" stroke="none">5GF</text>
<text x="10.6" y="26" font-size="17.5" font-weight="bold" fill="#000" stroke="none">A</text>
<text x="11" y="509" font-size="17.5" font-weight="bold" fill="#000" stroke="none">B</text>
<g fill="none" stroke-linecap="round"><line x1="432.1" y1="659.3" x2="374.9" y2="653.1" stroke="#8282ad" stroke-width="2.10" stroke-opacity="0.55"/><line x1="307.0" y1="607.2" x2="242.4" y2="643.2" stroke="#7f7fab" stroke-width="2.18" stroke-opacity="0.56"/><line x1="156.6" y1="696.5" x2="104.5" y2="632.7" stroke="#7f7fab" stroke-width="2.18" stroke-opacity="0.56"/><line x1="286.1" y1="634.0" x2="237.7" y2="619.0" stroke="#7f7fab" stroke-width="2.18" stroke-opacity="0.56"/><line x1="175.9" y1="768.3" x2="245.9" y2="694.2" stroke="#7c7aa9" stroke-width="2.26" stroke-opacity="0.57"/><line x1="215.2" y1="627.2" x2="173.8" y2="695.3" stroke="#7c7aa9" stroke-width="2.26" stroke-opacity="0.57"/><line x1="226.5" y1="635.5" x2="225.4" y2="629.2" stroke="#7c7aa9" stroke-width="2.26" stroke-opacity="0.57"/><line x1="217.6" y1="661.1" x2="177.0" y2="698.0" stroke="#7c7aa9" stroke-width="2.26" stroke-opacity="0.57"/><line x1="234.0" y1="665.3" x2="249.6" y2="710.9" stroke="#7c7aa9" stroke-width="2.26" stroke-opacity="0.57"/><line x1="141.9" y1="646.3" x2="75.1" y2="529.1" stroke="#7c7aa9" stroke-width="2.26" stroke-opacity="0.57"/><line x1="454.7" y1="676.1" x2="474.0" y2="721.6" stroke="#7c7aa9" stroke-width="2.26" stroke-opacity="0.57"/><line x1="443.5" y1="645.3" x2="425.7" y2="586.8" stroke="#7c7aa9" stroke-width="2.26" stroke-opacity="0.57"/><line x1="96.3" y1="916.8" x2="156.2" y2="796.6" stroke="#7c7aa9" stroke-width="2.26" stroke-opacity="0.57"/><line x1="126.5" y1="743.9" x2="155.0" y2="718.1" stroke="#7978a8" stroke-width="2.34" stroke-opacity="0.58"/><line x1="218.2" y1="628.6" x2="191.4" y2="706.9" stroke="#7978a8" stroke-width="2.34" stroke-opacity="0.58"/><line x1="140.1" y1="786.5" x2="161.3" y2="722.2" stroke="#7978a8" stroke-width="2.34" stroke-opacity="0.58"/><line x1="271.7" y1="685.7" x2="347.8" y2="699.4" stroke="#7575a6" stroke-width="2.43" stroke-opacity="0.59"/><line x1="139.3" y1="786.2" x2="163.0" y2="701.7" stroke="#7575a6" stroke-width="2.43" stroke-opacity="0.59"/><line x1="120.8" y1="740.0" x2="144.3" y2="677.8" stroke="#7373a4" stroke-width="2.51" stroke-opacity="0.61"/><line x1="124.7" y1="742.1" x2="157.8" y2="699.2" stroke="#7373a4" stroke-width="2.51" stroke-opacity="0.61"/><line x1="210.4" y1="622.6" x2="165.2" y2="651.9" stroke="#7373a4" stroke-width="2.51" stroke-opacity="0.61"/><line x1="136.5" y1="785.6" x2="148.5" y2="678.8" stroke="#7373a4" stroke-width="2.51" stroke-opacity="0.61"/><line x1="129.1" y1="747.7" x2="173.0" y2="727.3" stroke="#706fa4" stroke-width="2.59" stroke-opacity="0.62"/><line x1="249.7" y1="669.0" x2="229.6" y2="628.0" stroke="#706fa4" stroke-width="2.59" stroke-opacity="0.62"/><line x1="241.5" y1="687.1" x2="180.5" y2="704.0" stroke="#706fa4" stroke-width="2.59" stroke-opacity="0.62"/><line x1="242.9" y1="690.4" x2="199.8" y2="713.8" stroke="#706fa4" stroke-width="2.59" stroke-opacity="0.62"/><line x1="241.0" y1="683.7" x2="182.0" y2="686.6" stroke="#706fa4" stroke-width="2.59" stroke-opacity="0.62"/><line x1="180.8" y1="710.9" x2="239.4" y2="722.5" stroke="#706fa4" stroke-width="2.59" stroke-opacity="0.62"/><line x1="179.0" y1="771.8" x2="241.4" y2="733.6" stroke="#706fa4" stroke-width="2.59" stroke-opacity="0.62"/><line x1="178.8" y1="708.1" x2="159.6" y2="676.4" stroke="#6e6ca3" stroke-width="2.67" stroke-opacity="0.63"/><line x1="164.6" y1="763.4" x2="166.5" y2="702.4" stroke="#6e6ca3" stroke-width="2.67" stroke-opacity="0.63"/><line x1="221.0" y1="664.0" x2="194.4" y2="708.1" stroke="#6e6ca3" stroke-width="2.67" stroke-opacity="0.63"/><line x1="155.9" y1="677.1" x2="105.9" y2="631.6" stroke="#6e6ca3" stroke-width="2.67" stroke-opacity="0.63"/><line x1="128.7" y1="761.3" x2="148.6" y2="772.4" stroke="#6c6aa1" stroke-width="2.75" stroke-opacity="0.64"/><line x1="269.9" y1="722.3" x2="347.8" y2="705.7" stroke="#6c6aa1" stroke-width="2.75" stroke-opacity="0.64"/><line x1="171.8" y1="718.2" x2="118.8" y2="708.2" stroke="#6c6aa1" stroke-width="2.75" stroke-opacity="0.64"/><line x1="317.9" y1="652.4" x2="352.7" y2="690.1" stroke="#6a68a0" stroke-width="2.83" stroke-opacity="0.65"/><line x1="181.3" y1="735.2" x2="170.2" y2="764.5" stroke="#6a68a0" stroke-width="2.83" stroke-opacity="0.65"/><line x1="165.5" y1="670.6" x2="241.3" y2="717.3" stroke="#6a68a0" stroke-width="2.83" stroke-opacity="0.65"/><line x1="180.9" y1="693.3" x2="240.3" y2="719.3" stroke="#6a68a0" stroke-width="2.83" stroke-opacity="0.65"/><line x1="126.1" y1="706.1" x2="150.9" y2="707.3" stroke="#68669e" stroke-width="2.91" stroke-opacity="0.66"/><line x1="112.9" y1="718.3" x2="152.8" y2="767.3" stroke="#68669e" stroke-width="2.91" stroke-opacity="0.66"/><line x1="246.3" y1="671.1" x2="239.2" y2="662.6" stroke="#68669e" stroke-width="2.91" stroke-opacity="0.66"/><line x1="136.1" y1="651.2" x2="107.0" y2="630.5" stroke="#68669e" stroke-width="2.91" stroke-opacity="0.66"/><line x1="464.2" y1="732.2" x2="380.0" y2="707.1" stroke="#68669e" stroke-width="2.91" stroke-opacity="0.66"/><line x1="241.1" y1="679.9" x2="167.8" y2="664.9" stroke="#67649e" stroke-width="3.00" stroke-opacity="0.67"/><line x1="213.4" y1="652.8" x2="168.1" y2="659.0" stroke="#65629d" stroke-width="3.08" stroke-opacity="0.68"/><line x1="178.9" y1="707.8" x2="174.7" y2="700.5" stroke="#65629d" stroke-width="3.08" stroke-opacity="0.68"/><line x1="118.6" y1="700.5" x2="152.3" y2="691.3" stroke="#65629d" stroke-width="3.08" stroke-opacity="0.68"/><line x1="297.0" y1="603.4" x2="237.6" y2="612.3" stroke="#65629d" stroke-width="3.08" stroke-opacity="0.68"/><line x1="215.5" y1="658.7" x2="180.1" y2="679.6" stroke="#65629d" stroke-width="3.08" stroke-opacity="0.68"/><line x1="340.4" y1="594.2" x2="405.1" y2="575.8" stroke="#65629d" stroke-width="3.08" stroke-opacity="0.68"/><line x1="213.7" y1="626.6" x2="176.3" y2="675.2" stroke="#65629d" stroke-width="3.08" stroke-opacity="0.68"/><line x1="271.6" y1="678.3" x2="342.7" y2="656.4" stroke="#63629d" stroke-width="3.16" stroke-opacity="0.69"/><line x1="146.6" y1="794.2" x2="151.1" y2="790.9" stroke="#63629d" stroke-width="3.16" stroke-opacity="0.69"/><line x1="326.0" y1="614.1" x2="357.4" y2="686.9" stroke="#63609d" stroke-width="3.24" stroke-opacity="0.71"/><line x1="410.8" y1="584.5" x2="369.1" y2="638.1" stroke="#5f5b9b" stroke-width="3.49" stroke-opacity="0.74"/><line x1="114.2" y1="694.0" x2="141.3" y2="669.7" stroke="#5f5b9b" stroke-width="3.57" stroke-opacity="0.75"/><line x1="267.6" y1="716.2" x2="344.9" y2="661.2" stroke="#5d599a" stroke-width="3.65" stroke-opacity="0.76"/><line x1="294.4" y1="651.1" x2="268.7" y2="672.7" stroke="#5d599a" stroke-width="3.73" stroke-opacity="0.77"/><line x1="312.3" y1="624.0" x2="315.8" y2="613.1" stroke="#5d5899" stroke-width="3.89" stroke-opacity="0.79"/><line x1="332.0" y1="645.8" x2="341.5" y2="647.8" stroke="#5d5899" stroke-width="3.89" stroke-opacity="0.79"/><line x1="281.7" y1="643.8" x2="248.0" y2="648.2" stroke="#5d5899" stroke-width="3.89" stroke-opacity="0.79"/><line x1="266.4" y1="670.1" x2="310.4" y2="612.5" stroke="#595297" stroke-width="4.37" stroke-opacity="0.87"/><line x1="329.5" y1="612.6" x2="348.3" y2="637.6" stroke="#595297" stroke-width="4.37" stroke-opacity="0.87"/><line x1="432.8" y1="668.6" x2="379.5" y2="694.7" stroke="#595297" stroke-width="4.37" stroke-opacity="0.87"/><line x1="161.0" y1="693.0" x2="156.3" y2="678.7" stroke="#575197" stroke-width="4.41" stroke-opacity="0.88"/><line x1="362.2" y1="685.1" x2="360.5" y2="668.6" stroke="#575197" stroke-width="4.41" stroke-opacity="0.88"/><line x1="164.5" y1="762.7" x2="165.6" y2="723.8" stroke="#554c95" stroke-width="4.56" stroke-opacity="0.93"/><line x1="161.9" y1="762.8" x2="152.6" y2="679.6" stroke="#554c95" stroke-width="4.56" stroke-opacity="0.93"/><line x1="154.6" y1="671.5" x2="155.4" y2="692.0" stroke="#544b96" stroke-width="4.60" stroke-opacity="0.94"/><line x1="158.5" y1="673.5" x2="164.5" y2="669.5" stroke="#544b96" stroke-width="4.60" stroke-opacity="0.94"/></g>
<g font-size="12.8" fill="#111"><text x="69.9" y="524.67" text-anchor="middle">peEF2</text><text x="96.0" y="627.67" text-anchor="middle">Ki67</text><text x="150.5" y="666.07" text-anchor="middle">cPARP</text><text x="166.5" y="691.97" text-anchor="middle">GATA3</text><text x="109.4" y="711.67" text-anchor="middle">PAX5</text><text x="166.0" y="712.67" text-anchor="middle">pSHP2</text><text x="186.6" y="725.67" text-anchor="middle">pACC</text><text x="115.7" y="756.67" text-anchor="middle">pSrc</text><text x="164.0" y="785.67" text-anchor="middle">pCRKL</text><text x="144.6" y="808.37" text-anchor="middle">pSMAD2/3</text><text x="91.2" y="931.67" text-anchor="middle">Cyclin B1</text><text x="223.0" y="619.17" text-anchor="middle">pSTAT1</text><text x="229.0" y="655.37" text-anchor="middle">pAKT</text><text x="256.0" y="687.67" text-anchor="middle">pSTAT5</text><text x="254.6" y="730.17" text-anchor="middle">pP38</text><text x="307.0" y="645.17" text-anchor="middle">pERK1/2</text><text x="320.0" y="604.67" text-anchor="middle">pSTAT3</text><text x="358.7" y="656.07" text-anchor="middle">pCREB</text><text x="364.0" y="706.97" text-anchor="middle">pMAPKAPK2</text><text x="419.8" y="575.97" text-anchor="middle">pS6</text><text x="445.0" y="666.67" text-anchor="middle">PU.1</text><text x="480.5" y="741.67" text-anchor="middle">β−Catenin</text></g>
<rect x="1" y="1" width="518" height="943" fill="none" stroke="#000" stroke-width="2.2"/>
</svg></body></html>
